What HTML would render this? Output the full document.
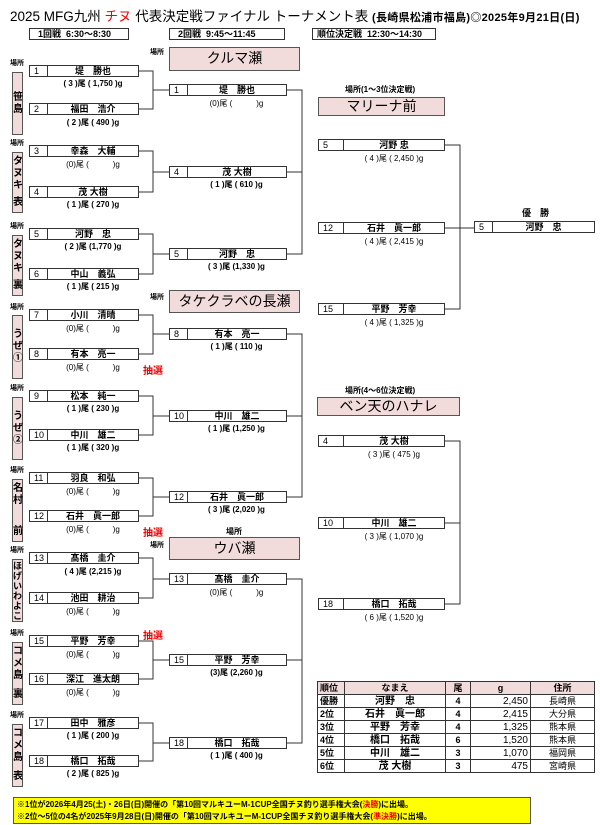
<!DOCTYPE html>
<html><head><meta charset="utf-8">
<style>
*{margin:0;padding:0;box-sizing:border-box}
body{width:600px;height:825px;background:#fff;position:relative;overflow:hidden;font-family:"Liberation Sans","Noto Sans CJK JP",sans-serif;color:#000}
.a{position:absolute}
.b{position:absolute;height:12px;border:1px solid #333;background:#fff;font-size:9px;line-height:10px;display:flex}
.b .n{width:18px;border-right:1px solid #333;padding-left:4px;font-weight:normal}
.b .t{flex:1;text-align:center;font-weight:bold}
.r1{left:29px;width:110px}
.r2{left:169px;width:118px}
.r3{left:318px;width:127px}
.r3 .n{width:25px}
.s{position:absolute;font-size:8px;font-weight:bold;white-space:pre;line-height:9px}
.s1{left:47px;width:92px;text-align:center}
.s2{left:186px;width:101px;text-align:center}
.s3{left:343px;width:102px;text-align:center;font-weight:normal}
.tag{position:absolute;left:12px;width:11px;background:#f2dcdb;border:1px solid #555;font-size:10px;font-weight:bold;line-height:12px;text-align:center;display:flex;flex-direction:column;justify-content:space-between;padding:3px 0}
.pl{position:absolute;left:10px;font-size:7px;font-weight:bold}
.v{position:absolute;background:#f2dcdb;border:1px solid #555;text-align:center;font-size:14px;line-height:20px}
.red{position:absolute;color:#e00;font-size:10px;font-weight:bold}
.hb{position:absolute;top:28px;height:12px;border:1px solid #333;font-size:9px;font-weight:bold;line-height:10px;padding-left:8px;white-space:pre}
table{position:absolute;left:317px;top:681px;width:278px;border-collapse:collapse;font-size:9px}
td{border:1px solid #333;height:13px;line-height:11px;padding:0 2px}
</style></head><body>
<div class="a" style="left:10px;top:5px;font-size:13.5px;white-space:nowrap">2025 MFG九州 <span style="color:#e00">チヌ</span> 代表決定戦ファイナル トーナメント表 <span style="font-size:11px;font-weight:bold;letter-spacing:0.3px">(長崎県松浦市福島)◎2025年9月21日(日)</span></div>
<div class="hb" style="left:29px;width:100px">1回戦  6:30～8:30</div>
<div class="hb" style="left:169px;width:116px">2回戦  9:45～11:45</div>
<div class="hb" style="left:312px;width:124px;padding-left:4px">順位決定戦  12:30～14:30</div>

<svg class="a" style="left:0;top:0" width="600" height="825"><g stroke="#333" stroke-width="1" fill="none">
<path d="M139 71H153V109H139M153 90H169"/>
<path d="M139 151H153V192H139M153 172H169"/>
<path d="M139 234H153V274H139M153 254H169"/>
<path d="M139 315H153V354H139M153 334H169"/>
<path d="M139 396H153V435H139M153 416H169"/>
<path d="M139 478H153V516H139M153 497H169"/>
<path d="M139 558H153V598H139M153 579H169"/>
<path d="M139 641H153V679H139M153 660H169"/>
<path d="M139 723H153V761H139M153 743H169"/>
<path d="M287 90H302V254H287M287 172H302"/>
<path d="M287 334H302V497H287M287 416H302"/>
<path d="M287 579H302V743H287M287 660H302"/>
<path d="M445 145H460V309H445M445 228H474"/>
<path d="M445 441H460V604H445M445 523H460"/>
</g></svg>

<div class="pl" style="top:58px">場所</div><div class="tag" style="top:72px;height:63px;justify-content:center"><span>笹</span><span>島</span></div>
<div class="pl" style="top:138px">場所</div><div class="tag" style="top:152px;height:61px"><span>タ<br>ヌ<br>キ</span><span>表</span></div>
<div class="pl" style="top:221px">場所</div><div class="tag" style="top:235px;height:61px"><span>タ<br>ヌ<br>キ</span><span>裏</span></div>
<div class="pl" style="top:302px">場所</div><div class="tag" style="top:315px;height:64px;justify-content:center"><span>う<br>ぜ<br>①</span></div>
<div class="pl" style="top:383px">場所</div><div class="tag" style="top:397px;height:63px;justify-content:center"><span>う<br>ぜ<br>②</span></div>
<div class="pl" style="top:465px">場所</div><div class="tag" style="top:479px;height:63px"><span>名<br>村</span><span>前</span></div>
<div class="pl" style="top:545px">場所</div><div class="tag" style="top:559px;height:63px;font-size:9px;line-height:10px;padding:1px 0"><span>ほ<br>げ<br>い<br>わ<br>よ<br>こ</span></div>
<div class="pl" style="top:628px">場所</div><div class="tag" style="top:642px;height:63px"><span>コ<br>メ<br>島</span><span>裏</span></div>
<div class="pl" style="top:710px">場所</div><div class="tag" style="top:724px;height:63px"><span>コ<br>メ<br>島</span><span>表</span></div>

<div class="a" style="left:150px;top:47px;font-size:7px;font-weight:bold">場所</div>
<div class="v" style="left:169px;top:47px;width:131px;height:24px">クルマ瀬</div>
<div class="a" style="left:150px;top:292px;font-size:7px;font-weight:bold">場所</div>
<div class="v" style="left:169px;top:290px;width:131px;height:23px">タケクラベの長瀬</div>
<div class="a" style="left:226px;top:526px;font-size:8px;font-weight:bold">場所</div>
<div class="a" style="left:150px;top:540px;font-size:7px;font-weight:bold">場所</div>
<div class="v" style="left:169px;top:537px;width:131px;height:23px">ウバ瀬</div>
<div class="a" style="left:345px;top:84px;font-size:8px;font-weight:bold">場所(1～3位決定戦)</div>
<div class="v" style="left:318px;top:97px;width:127px;height:19px;line-height:17px">マリーナ前</div>
<div class="a" style="left:345px;top:385px;font-size:8px;font-weight:bold">場所(4～6位決定戦)</div>
<div class="v" style="left:317px;top:397px;width:143px;height:19px;line-height:17px">ベン天のハナレ</div>

<div class="b r1" style="top:65px"><span class="n">1</span><span class="t">堤　勝也</span></div><div class="s s1" style="top:79px">( 3 )尾 ( 1,750 )g</div>
<div class="b r1" style="top:103px"><span class="n">2</span><span class="t">福田　浩介</span></div><div class="s s1" style="top:118px">( 2 )尾 ( 490 )g</div>
<div class="b r1" style="top:145px"><span class="n">3</span><span class="t">幸森　大輔</span></div><div class="s s1" style="top:160px;font-weight:normal">(0)尾 (　　　)g</div>
<div class="b r1" style="top:186px"><span class="n">4</span><span class="t">茂 大樹</span></div><div class="s s1" style="top:200px">( 1 )尾 ( 270 )g</div>
<div class="b r1" style="top:228px"><span class="n">5</span><span class="t">河野　忠</span></div><div class="s s1" style="top:242px">( 2 )尾 (1,770 )g</div>
<div class="b r1" style="top:268px"><span class="n">6</span><span class="t">中山　義弘</span></div><div class="s s1" style="top:282px">( 1 )尾 ( 215 )g</div>
<div class="b r1" style="top:309px"><span class="n">7</span><span class="t">小川　清晴</span></div><div class="s s1" style="top:324px;font-weight:normal">(0)尾 (　　　)g</div>
<div class="b r1" style="top:348px"><span class="n">8</span><span class="t">有本　亮一</span></div><div class="s s1" style="top:363px;font-weight:normal">(0)尾 (　　　)g</div>
<div class="red" style="left:143px;top:362px">抽選</div>
<div class="b r1" style="top:390px"><span class="n">9</span><span class="t">松本　純一</span></div><div class="s s1" style="top:404px">( 1 )尾 ( 230 )g</div>
<div class="b r1" style="top:429px"><span class="n">10</span><span class="t">中川　雄二</span></div><div class="s s1" style="top:443px">( 1 )尾 ( 320 )g</div>
<div class="b r1" style="top:472px"><span class="n">11</span><span class="t">羽良　和弘</span></div><div class="s s1" style="top:487px;font-weight:normal">(0)尾 (　　　)g</div>
<div class="b r1" style="top:510px"><span class="n">12</span><span class="t">石井　眞一郎</span></div><div class="s s1" style="top:525px;font-weight:normal">(0)尾 (　　　)g</div>
<div class="red" style="left:143px;top:524px">抽選</div>
<div class="b r1" style="top:552px"><span class="n">13</span><span class="t">髙橋　圭介</span></div><div class="s s1" style="top:567px">( 4 )尾 (2,215 )g</div>
<div class="b r1" style="top:592px"><span class="n">14</span><span class="t">池田　耕治</span></div><div class="s s1" style="top:607px;font-weight:normal">(0)尾 (　　　)g</div>
<div class="red" style="left:143px;top:627px">抽選</div>
<div class="b r1" style="top:635px"><span class="n">15</span><span class="t">平野　芳幸</span></div><div class="s s1" style="top:650px;font-weight:normal">(0)尾 (　　　)g</div>
<div class="b r1" style="top:673px"><span class="n">16</span><span class="t">深江　進太朗</span></div><div class="s s1" style="top:688px;font-weight:normal">(0)尾 (　　　)g</div>
<div class="b r1" style="top:717px"><span class="n">17</span><span class="t">田中　雅彦</span></div><div class="s s1" style="top:731px">( 1 )尾 ( 200 )g</div>
<div class="b r1" style="top:755px"><span class="n">18</span><span class="t">橋口　拓哉</span></div><div class="s s1" style="top:769px">( 2 )尾 ( 825 )g</div>

<div class="b r2" style="top:84px"><span class="n">1</span><span class="t">堤　勝也</span></div><div class="s s2" style="top:99px;font-weight:normal">(0)尾 (　　　)g</div>
<div class="b r2" style="top:166px"><span class="n">4</span><span class="t">茂 大樹</span></div><div class="s s2" style="top:180px">( 1 )尾 ( 610 )g</div>
<div class="b r2" style="top:248px"><span class="n">5</span><span class="t">河野　忠</span></div><div class="s s2" style="top:262px">( 3 )尾 (1,330 )g</div>
<div class="b r2" style="top:328px"><span class="n">8</span><span class="t">有本　亮一</span></div><div class="s s2" style="top:342px">( 1 )尾 ( 110 )g</div>
<div class="b r2" style="top:410px"><span class="n">10</span><span class="t">中川　雄二</span></div><div class="s s2" style="top:424px">( 1 )尾 (1,250 )g</div>
<div class="b r2" style="top:491px"><span class="n">12</span><span class="t">石井　眞一郎</span></div><div class="s s2" style="top:505px">( 3 )尾 (2,020 )g</div>
<div class="b r2" style="top:573px"><span class="n">13</span><span class="t">髙橋　圭介</span></div><div class="s s2" style="top:588px;font-weight:normal">(0)尾 (　　　)g</div>
<div class="b r2" style="top:654px"><span class="n">15</span><span class="t">平野　芳幸</span></div><div class="s s2" style="top:668px">(3)尾 (2,260 )g</div>
<div class="b r2" style="top:737px"><span class="n">18</span><span class="t">橋口　拓哉</span></div><div class="s s2" style="top:751px">( 1 )尾 ( 400 )g</div>

<div class="b r3" style="top:139px"><span class="n">5</span><span class="t">河野 忠</span></div><div class="s s3" style="top:154px">( 4 )尾 ( 2,450 )g</div>
<div class="b r3" style="top:222px"><span class="n">12</span><span class="t">石井　眞一郎</span></div><div class="s s3" style="top:237px">( 4 )尾 ( 2,415 )g</div>
<div class="b r3" style="top:303px"><span class="n">15</span><span class="t">平野　芳幸</span></div><div class="s s3" style="top:318px">( 4 )尾 ( 1,325 )g</div>
<div class="b r3" style="top:435px"><span class="n">4</span><span class="t">茂 大樹</span></div><div class="s s3" style="top:450px">( 3 )尾 ( 475 )g</div>
<div class="b r3" style="top:517px"><span class="n">10</span><span class="t">中川　雄二</span></div><div class="s s3" style="top:532px">( 3 )尾 ( 1,070 )g</div>
<div class="b r3" style="top:598px"><span class="n">18</span><span class="t">橋口　拓哉</span></div><div class="s s3" style="top:613px">( 6 )尾 ( 1,520 )g</div>
<div class="a" style="left:522px;top:206px;font-size:9px;font-weight:bold">優　勝</div>
<div class="b" style="left:474px;top:221px;width:121px"><span class="n">5</span><span class="t">河野　忠</span></div>

<table>
<tr style="background:#f2dcdb;font-weight:bold"><td style="width:27px">順位</td><td style="width:101px;text-align:center">なまえ</td><td style="width:25px;text-align:center">尾</td><td style="width:60px;text-align:center">g</td><td style="text-align:center">住所</td></tr>
<tr><td><b>優勝</b></td><td style="text-align:center;font-weight:bold;font-size:10px">河野　忠</td><td style="text-align:center"><b>4</b></td><td style="text-align:right;font-size:10px">2,450</td><td style="text-align:center">長崎県</td></tr>
<tr><td><b>2位</b></td><td style="text-align:center;font-weight:bold;font-size:10px">石井　眞一郎</td><td style="text-align:center"><b>4</b></td><td style="text-align:right;font-size:10px">2,415</td><td style="text-align:center">大分県</td></tr>
<tr><td><b>3位</b></td><td style="text-align:center;font-weight:bold;font-size:10px">平野　芳幸</td><td style="text-align:center"><b>4</b></td><td style="text-align:right;font-size:10px">1,325</td><td style="text-align:center">熊本県</td></tr>
<tr><td><b>4位</b></td><td style="text-align:center;font-weight:bold;font-size:10px">橋口　拓哉</td><td style="text-align:center"><b>6</b></td><td style="text-align:right;font-size:10px">1,520</td><td style="text-align:center">熊本県</td></tr>
<tr><td><b>5位</b></td><td style="text-align:center;font-weight:bold;font-size:10px">中川　雄二</td><td style="text-align:center"><b>3</b></td><td style="text-align:right;font-size:10px">1,070</td><td style="text-align:center">福岡県</td></tr>
<tr><td><b>6位</b></td><td style="text-align:center;font-weight:bold;font-size:10px">茂 大樹</td><td style="text-align:center"><b>3</b></td><td style="text-align:right;font-size:10px">475</td><td style="text-align:center">宮崎県</td></tr>
</table>

<div class="a" style="left:13px;top:797px;width:518px;height:27px;background:#ffff00;border:1px solid #555;font-size:8px;font-weight:bold;line-height:12px;padding:1px 3px;white-space:nowrap">※1位が2026年4月25(土)・26日(日)開催の「第10回マルキユーM-1CUP全国チヌ釣り選手権大会(<span style="color:#e00">決勝</span>)に出場。<br>※2位～5位の4名が2025年9月28日(日)開催の「第10回マルキユーM-1CUP全国チヌ釣り選手権大会(<span style="color:#e00">準決勝</span>)に出場。</div>
</body></html>
